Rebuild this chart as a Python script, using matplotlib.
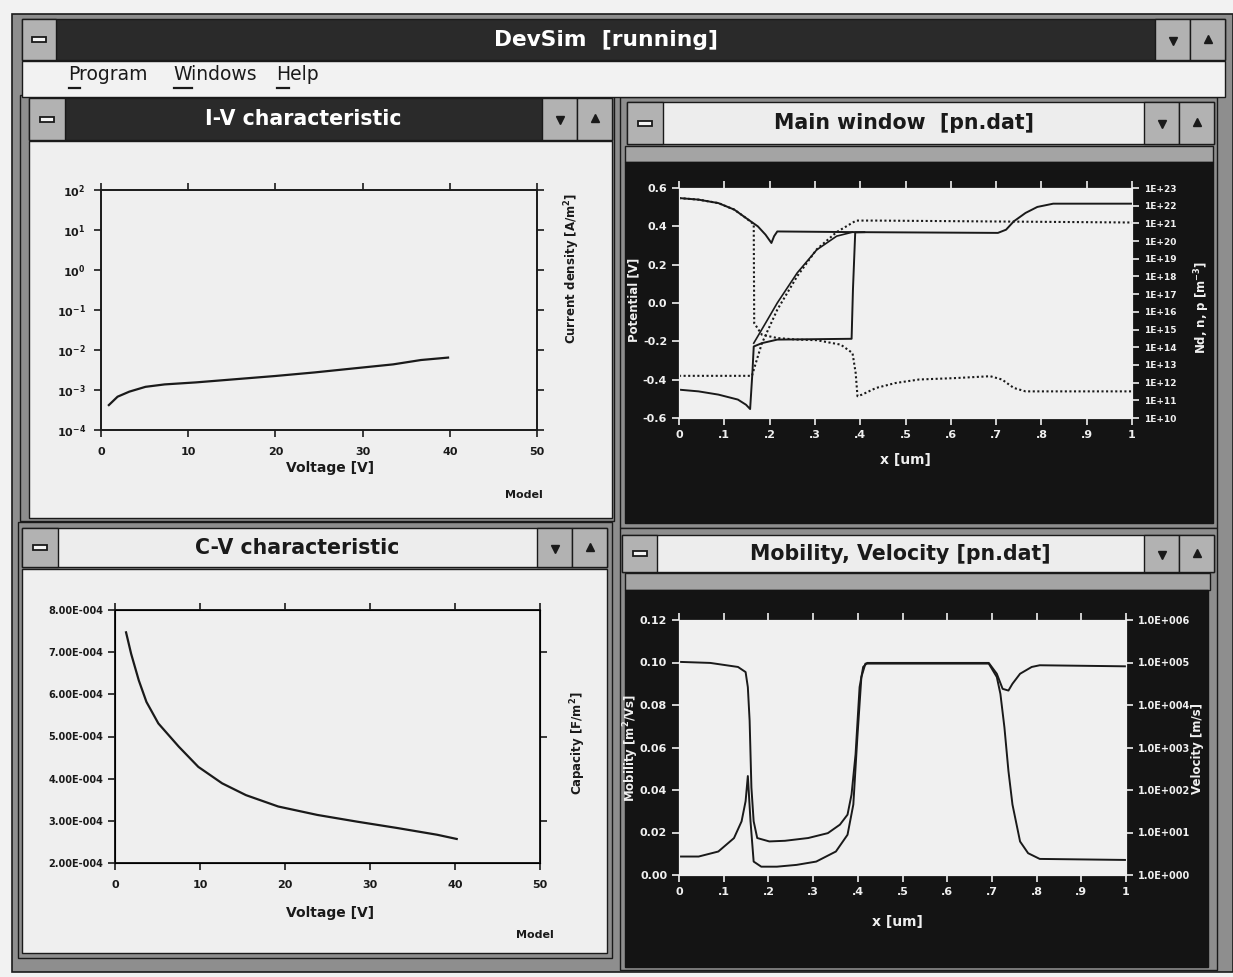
import numpy as np
import matplotlib
matplotlib.use("Agg")
import matplotlib.pyplot as plt
from matplotlib.patches import Rectangle
from matplotlib.ticker import NullLocator
from matplotlib import font_manager

W, H = 1233, 977

# ---------------- data ----------------
# I-V characteristic
iv_voltage = [0.9, 1.9, 3.25, 5.1, 7.3, 10.9, 15.4, 20.0, 24.5, 29.0, 33.5, 36.7, 39.8]
iv_current = [4.2e-4, 6.8e-4, 9.1e-4, 1.2e-3, 1.38e-3, 1.55e-3, 1.86e-3, 2.24e-3,
              2.75e-3, 3.47e-3, 4.37e-3, 5.62e-3, 6.46e-3]
iv_xticks = [0, 10, 20, 30, 40, 50]
iv_yexp = [-4, -3, -2, -1, 0, 1, 2]

# C-V characteristic
cv_voltage = [1.3, 1.9, 2.8, 3.7, 5.1, 7.5, 9.8, 12.6, 15.4, 19.2, 23.8, 28.5, 33.2, 37.9, 40.2]
cv_capacity = [7.47e-4, 6.96e-4, 6.33e-4, 5.82e-4, 5.31e-4, 4.76e-4, 4.28e-4, 3.89e-4,
               3.61e-4, 3.34e-4, 3.14e-4, 2.98e-4, 2.83e-4, 2.67e-4, 2.57e-4]
cv_xticks = [0, 10, 20, 30, 40, 50]
cv_yticks = [2e-4, 3e-4, 4e-4, 5e-4, 6e-4, 7e-4, 8e-4]

# Main window: potential and densities along x
x_ticks = [0, .1, .2, .3, .4, .5, .6, .7, .8, .9, 1.0]
x_ticklabels = ['0', '.1', '.2', '.3', '.4', '.5', '.6', '.7', '.8', '.9', '1']

pot_x = [0, 0.161, 0.170, 0.183, 0.217, 0.261, 0.304, 0.348, 0.391, 0.435, 1.0]
pot_v = [-0.38, -0.38, -0.31, -0.21, -0.035, 0.14, 0.28, 0.37, 0.43, 0.43, 0.42]
pot_ticks = [-0.6, -0.4, -0.2, 0.0, 0.2, 0.4, 0.6]

nd_x = [0, 0.043, 0.087, 0.122, 0.148, 0.174, 0.191, 0.204, 0.210, 0.217,
        0.391, 0.704, 0.722, 0.739, 0.765, 0.791, 0.826, 1.0]
nd_val = [2.7e22, 2.2e22, 1.4e22, 6.0e21, 2.0e21, 6.8e20, 2.3e20, 7.8e19, 1.9e20, 3.5e20,
          3.2e20, 2.9e20, 4.4e20, 1.3e21, 3.9e21, 8.5e21, 1.3e22, 1.3e22]

n_x = [0, 0.043, 0.087, 0.130, 0.148, 0.157, 0.162, 0.165, 0.183, 0.217, 0.381, 0.384, 0.389, 0.409]
n_val = [4.0e11, 3.2e11, 2.1e11, 1.1e11, 5.6e10, 3.2e10, 3.5e12, 1.1e14, 1.7e14, 2.7e14,
         3.0e14, 1.8e17, 3.1e20, 3.2e20]

rise_x = [0.165, 0.191, 0.217, 0.261, 0.304, 0.348, 0.383]
rise_val = [1.7e14, 2.3e15, 3.2e16, 1.6e18, 3.2e19, 1.9e20, 3.2e20]

p_x = [0, 0.043, 0.087, 0.122, 0.148, 0.165, 0.166, 0.183, 0.217, 0.261, 0.304, 0.357, 0.383,
       0.390, 0.394, 0.404, 0.435, 0.478, 0.530, 0.609, 0.687, 0.713, 0.739, 0.765, 1.0]
p_val = [2.7e22, 2.2e22, 1.4e22, 6.0e21, 2.0e21, 8.9e20, 2.3e15, 5.1e14, 3.3e14, 2.7e14,
         2.5e14, 1.4e14, 4.7e13, 3.5e12, 1.7e11, 2.1e11, 5.0e11, 9.5e11, 1.5e12, 1.8e12,
         2.3e12, 1.5e12, 5.0e11, 3.2e11, 3.2e11]
dens_exp = list(range(10, 24))

# Mobility, Velocity
mob_x = [0, 0.070, 0.132, 0.149, 0.154, 0.158, 0.162, 0.167, 0.175, 0.202, 0.237, 0.289, 0.333,
         0.360, 0.377, 0.386, 0.395, 0.404, 0.412, 0.421, 0.693, 0.711, 0.724, 0.737, 0.746,
         0.763, 0.789, 0.807, 1.0]
mob_val = [0.1003, 0.0998, 0.0979, 0.0955, 0.0884, 0.0726, 0.0411, 0.0253, 0.0174, 0.0158,
           0.0161, 0.0174, 0.0197, 0.0237, 0.0284, 0.0379, 0.0568, 0.0884, 0.0979, 0.0998,
           0.0998, 0.0947, 0.0876, 0.0868, 0.0900, 0.0947, 0.0979, 0.0987, 0.0982]
mob_ticks = [0, 0.02, 0.04, 0.06, 0.08, 0.10, 0.12]

vel_x = [0, 0.044, 0.088, 0.123, 0.140, 0.149, 0.154, 0.160, 0.167, 0.184, 0.219, 0.263, 0.307,
         0.351, 0.377, 0.390, 0.399, 0.408, 0.417, 0.693, 0.711, 0.719, 0.728, 0.737, 0.746,
         0.763, 0.781, 0.807, 1.0]
vel_val = [2.72, 2.72, 3.57, 7.38, 18.3, 54.6, 213, 18.3, 2.07, 1.57, 1.57, 1.73, 2.07, 3.57,
           8.85, 45.5, 1730, 45500, 94200, 94200, 45500, 18300, 2980, 280, 45.5, 6.15, 3.26,
           2.39, 2.26]
vel_exp = [0, 1, 2, 3, 4, 5, 6]

# ---------------- fonts ----------------
names = {f.name for f in font_manager.fontManager.ttflist}
if 'Liberation Sans Narrow' in names:
    TF = dict(family='Liberation Sans Narrow')
    tscale = 1.0
    menu_fs = 17
else:
    TF = dict(family='DejaVu Sans')
    tscale = 0.87
    menu_fs = 13.5

INK = '#1a1a1a'
PAPER = '#efefef'
DITHER = '#8e8e8e'
BTN = '#b2b2b2'
DARK = '#2a2a2a'
BLACK = '#141414'

fig = plt.figure(figsize=(W / 100, H / 100), dpi=100)
fig.patch.set_facecolor('#f2f2f2')
bg = fig.add_axes([0, 0, 1, 1])
bg.set_xlim(0, W)
bg.set_ylim(H, 0)
bg.axis('off')


def box(x0, y0, x1, y1, fc, ec=INK, lw=1.0, z=1):
    bg.add_patch(Rectangle((x0, y0), x1 - x0, y1 - y0, facecolor=fc,
                           edgecolor=ec, linewidth=lw, zorder=z))


def title_bar(x0, y0, x1, y1, sys_w, btn_w, title, dark, fs):
    box(x0, y0, x1, y1, DARK if dark else '#ededed', z=2)
    box(x0, y0, x0 + sys_w, y1, BTN, z=3)
    cx = x0 + sys_w / 2
    cy = (y0 + y1) / 2
    box(cx - 7, cy - 2.5, cx + 7, cy + 2.5, '#f4f4f4', INK, 1.3, 4)
    box(x1 - 2 * btn_w, y0, x1 - btn_w, y1, BTN, z=3)
    box(x1 - btn_w, y0, x1, y1, BTN, z=3)
    bg.plot(x1 - 1.5 * btn_w, cy + 1, marker='v', ms=6, color=INK, zorder=5)
    bg.plot(x1 - 0.5 * btn_w, cy - 1, marker='^', ms=6, color=INK, zorder=5)
    bg.text((x0 + sys_w + x1 - 2 * btn_w) / 2, cy, title,
            color='white' if dark else INK, fontsize=fs * tscale, fontweight='bold',
            ha='center', va='center', zorder=6, **TF)


def px_axes(x0, y0, x1, y1):
    return fig.add_axes([x0 / W, 1 - y1 / H, (x1 - x0) / W, (y1 - y0) / H])


# ---------------- window chrome ----------------
box(12, 14, 1233, 972, DITHER, lw=1.2)
title_bar(22, 19, 1225, 60, 34, 35, 'DevSim  [running]', True, 18)
box(22, 61, 1225, 97, '#f2f2f2', z=2)
for label, x, uw in [('Program', 68, 12), ('Windows', 173, 19), ('Help', 276, 13)]:
    bg.text(x, 74, label, fontsize=menu_fs, color=INK,
            ha='left', va='center', zorder=6, **TF)
    bg.plot([x + 1, x + uw], [88, 88], color=INK, lw=1.6, zorder=6)

# I-V window
box(20, 95, 614, 521, DITHER)
title_bar(29, 98, 612, 140, 36, 35, 'I-V characteristic', True, 17)
box(29, 141, 612, 518, PAPER, z=2)

# Main window
box(620, 97, 1217, 528, DITHER)
title_bar(627, 102, 1214, 144, 36, 35, 'Main window  [pn.dat]', False, 17)
box(625, 146, 1213, 162, '#a4a4a4', z=2)
box(625, 162, 1213, 523, BLACK, ec=BLACK, z=2)

# C-V window
box(18, 522, 612, 958, DITHER)
title_bar(22, 528, 607, 567, 36, 35, 'C-V characteristic', False, 17)
box(22, 569, 607, 953, PAPER, z=2)

# Mobility window
box(620, 528, 1217, 970, DITHER)
title_bar(622, 535, 1214, 572, 35, 35, 'Mobility, Velocity [pn.dat]', False, 17)
box(625, 573, 1210, 590, '#a4a4a4', z=2)
box(625, 590, 1208, 967, BLACK, ec=BLACK, z=2)


def style_light(ax):
    ax.set_facecolor(PAPER)
    for s in ax.spines.values():
        s.set_color(INK)
        s.set_linewidth(1.4)
    ax.tick_params(direction='out', length=5, width=1.2, color=INK, labelcolor=INK,
                   labelsize=8, top=True)


def style_dark(ax):
    ax.set_facecolor('#f0f0f0')
    for s in ax.spines.values():
        s.set_color('#f0f0f0')
    ax.tick_params(direction='out', length=5, width=1.2, color='#f0f0f0',
                   labelcolor='#f0f0f0', labelsize=8, top=True)


# ---------------- I-V plot ----------------
ax = px_axes(101, 190, 537, 430)
style_light(ax)
ax.plot(iv_voltage, iv_current, color=INK, lw=1.6)
ax.set_xlim(0, 50)
ax.set_yscale('log')
ax.set_ylim(1e-4, 1e2)
ax.set_xticks(iv_xticks)
ax.set_xticklabels([str(v) for v in iv_xticks], fontweight='bold')
ax.set_yticks([10.0 ** e for e in iv_yexp])
ax.set_yticklabels([r'$\mathbf{10^{%d}}$' % e for e in iv_yexp])
ax.yaxis.set_minor_locator(NullLocator())
ax.tick_params(axis='y', right=True, pad=6)
ax.tick_params(axis='x', pad=7)
bg.text(330, 468, 'Voltage [V]', fontsize=10, fontweight='bold', color=INK, ha='center', va='center')
bg.text(505, 495, 'Model', fontsize=8, fontweight='bold', color=INK, ha='left', va='center')
bg.text(572, 268, r'Current density [A/m$^\mathbf{2}$]', fontsize=8.5, fontweight='bold', color=INK,
        rotation=90, ha='center', va='center')

# ---------------- C-V plot ----------------
ax = px_axes(115, 610, 540, 863)
style_light(ax)
ax.plot(cv_voltage, cv_capacity, color=INK, lw=1.6)
ax.set_xlim(0, 50)
ax.set_ylim(cv_yticks[0], cv_yticks[-1])
ax.set_xticks(cv_xticks)
ax.set_xticklabels([str(v) for v in cv_xticks], fontweight='bold')
ax.set_yticks(cv_yticks)
ax.set_yticklabels(['%.2fE-%03d' % (v / 10 ** np.floor(np.log10(v)), -np.floor(np.log10(v)))
                    for v in cv_yticks], fontweight='bold', fontsize=7)
ax.tick_params(axis='x', pad=7)
axr = ax.twinx()
axr.set_ylim(cv_yticks[0], cv_yticks[-1])
axr.set_yticks(cv_yticks[1::2])
axr.set_yticklabels([])
axr.tick_params(direction='out', length=5, width=1.2, color=INK)
bg.text(330, 913, 'Voltage [V]', fontsize=10, fontweight='bold', color=INK, ha='center', va='center')
bg.text(516, 935, 'Model', fontsize=8, fontweight='bold', color=INK, ha='left', va='center')
bg.text(578, 743, r'Capacity [F/m$^\mathbf{2}$]', fontsize=8.5, fontweight='bold', color=INK,
        rotation=90, ha='center', va='center')

# ---------------- Main window plot ----------------
ax = px_axes(679, 188, 1132, 418)
style_dark(ax)
ax.plot(pot_x, pot_v, color=INK, lw=1.5, ls=(0, (1, 1.2)))
ax.set_xlim(0, 1)
ax.set_ylim(pot_ticks[0], pot_ticks[-1])
ax.set_xticks(x_ticks)
ax.set_xticklabels(x_ticklabels, fontweight='bold')
ax.set_yticks(pot_ticks)
ax.set_yticklabels(['%.1f' % v for v in pot_ticks], fontweight='bold')
axr = ax.twinx()
axr.set_yscale('log')
axr.set_ylim(10.0 ** dens_exp[0], 10.0 ** dens_exp[-1])
axr.plot(p_x, p_val, color=INK, lw=1.5, ls=(0, (1, 1.2)))
axr.plot(nd_x, nd_val, color=INK, lw=1.4)
axr.plot(n_x, n_val, color=INK, lw=1.4)
axr.plot(rise_x, rise_val, color=INK, lw=1.2)
axr.set_yticks([10.0 ** e for e in dens_exp])
axr.set_yticklabels(['1E+%d' % e for e in dens_exp], fontweight='bold', fontsize=6.5)
axr.yaxis.set_minor_locator(NullLocator())
for s in axr.spines.values():
    s.set_color('#f0f0f0')
axr.tick_params(direction='out', length=5, width=1.2, color='#f0f0f0', labelcolor='#f0f0f0')
bg.text(905, 460, 'x [um]', fontsize=10, fontweight='bold', color='#f0f0f0', ha='center', va='center')
bg.text(634, 300, 'Potential [V]', fontsize=8.5, fontweight='bold', color='#f0f0f0',
        rotation=90, ha='center', va='center')
bg.text(1202, 307, r'Nd, n, p [m$^\mathbf{-3}$]', fontsize=8.5, fontweight='bold', color='#f0f0f0',
        rotation=90, ha='center', va='center')

# ---------------- Mobility, Velocity plot ----------------
ax = px_axes(679, 620, 1126, 875)
style_dark(ax)
ax.plot(mob_x, mob_val, color=INK, lw=1.4)
ax.set_xlim(0, 1)
ax.set_ylim(mob_ticks[0], mob_ticks[-1])
ax.set_xticks(x_ticks)
ax.set_xticklabels(x_ticklabels, fontweight='bold')
ax.set_yticks(mob_ticks)
ax.set_yticklabels(['%.2f' % v for v in mob_ticks], fontweight='bold')
axr = ax.twinx()
axr.set_yscale('log')
axr.set_ylim(10.0 ** vel_exp[0], 10.0 ** vel_exp[-1])
axr.plot(vel_x, vel_val, color=INK, lw=1.4)
axr.set_yticks([10.0 ** e for e in vel_exp])
axr.set_yticklabels(['1.0E+%03d' % e for e in vel_exp], fontweight='bold', fontsize=7)
axr.yaxis.set_minor_locator(NullLocator())
for s in axr.spines.values():
    s.set_color('#f0f0f0')
axr.tick_params(direction='out', length=5, width=1.2, color='#f0f0f0', labelcolor='#f0f0f0')
bg.text(897, 922, 'x [um]', fontsize=10, fontweight='bold', color='#f0f0f0', ha='center', va='center')
bg.text(631, 748, r'Mobility [m$^\mathbf{2}$/Vs]', fontsize=8.5, fontweight='bold', color='#f0f0f0',
        rotation=90, ha='center', va='center')
bg.text(1198, 748, 'Velocity [m/s]', fontsize=8.5, fontweight='bold', color='#f0f0f0',
        rotation=90, ha='center', va='center')

fig.savefig('out.png', dpi=100, facecolor=fig.get_facecolor())
